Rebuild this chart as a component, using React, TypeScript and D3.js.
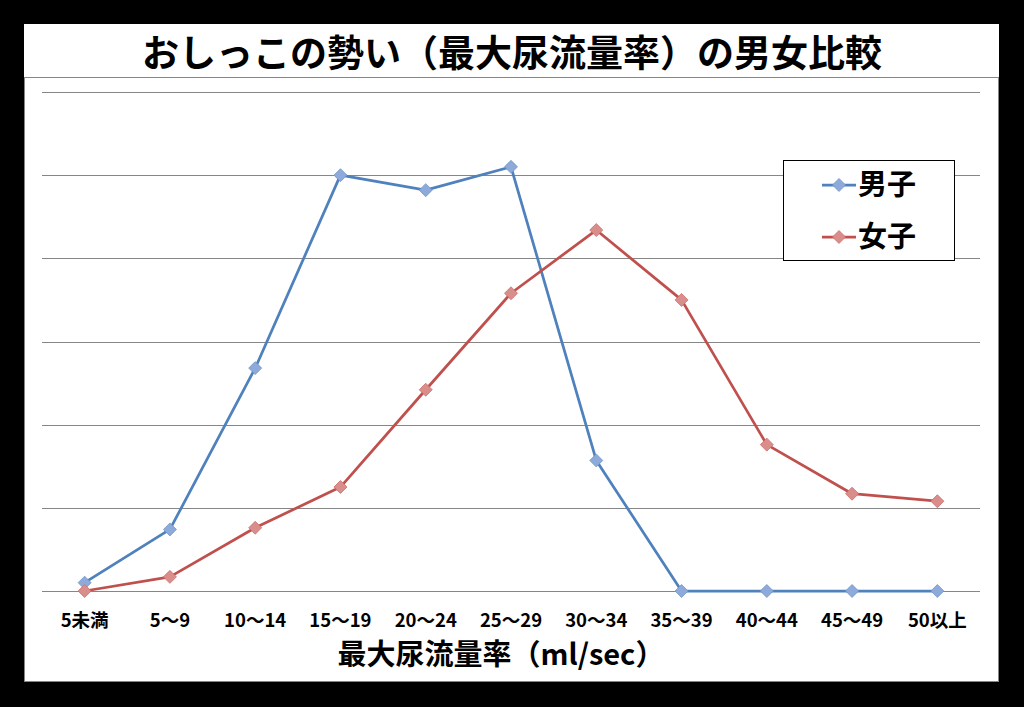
import React from "react";
import * as d3 from "d3";

const categories = ["5未満", "5～9", "10～14", "15～19", "20～24", "25～29", "30～34", "35～39", "40～44", "45～49", "50以上"];
const maleValues = [0.5, 3.7, 13.4, 25.0, 24.1, 25.5, 7.85, 0, 0, 0, 0];
const femaleValues = [0, 0.85, 3.8, 6.25, 12.1, 17.9, 21.7, 17.5, 8.8, 5.85, 5.4];
const yTicks = [0, 5, 10, 15, 20, 25, 30];
const seriesNames = ["男子", "女子"];
const title = "おしっこの勢い（最大尿流量率）の男女比較";
const xTitle = "最大尿流量率（ml/sec）";

const W = 1024;
const H = 707;
const FONT = "'Noto Sans CJK JP', 'Noto Sans', sans-serif";

const plot = { left: 42, right: 980, top: 92, bottom: 591 };

export default function App() {
  const x = d3.scaleBand<string>().domain(categories).range([plot.left, plot.right]);
  const y = d3.scaleLinear().domain([0, 30]).range([plot.bottom, plot.top]);
  const cx = (c: string) => (x(c) as number) + x.bandwidth() / 2;
  const line = d3
    .line<number>()
    .x((_, i) => cx(categories[i]))
    .y((d) => y(d));

  const series = [
    { name: seriesNames[0], values: maleValues, stroke: "#4F81BD", fill: "#8EAADB", mstroke: "#6F95C8" },
    { name: seriesNames[1], values: femaleValues, stroke: "#C0504D", fill: "#DA8E8C", mstroke: "#CC6E6B" },
  ];

  const diamond = (px: number, py: number, r: number) =>
    `M${px},${py - r}L${px + r},${py}L${px},${py + r}L${px - r},${py}Z`;

  return (
    <svg width={W} height={H} style={{ position: "absolute", left: 0, top: 0, display: "block" }}>
      <rect x={0} y={0} width={W} height={H} fill="#000" />
      <rect x={24} y={24} width={975} height={53} fill="#fff" />
      <rect x={24.5} y={77.5} width={974} height={604} fill="#fff" stroke="#868686" strokeWidth={1} />
      <text
        x={512}
        y={67}
        textAnchor="middle"
        fontFamily={FONT}
        fontWeight="bold"
        fontSize={37}
        fill="#000"
      >
        {title}
      </text>
      {yTicks.map((t) => (
        <line
          key={t}
          x1={plot.left}
          x2={plot.right}
          y1={Math.round(y(t)) + 0.5}
          y2={Math.round(y(t)) + 0.5}
          stroke="#868686"
          strokeWidth={1}
        />
      ))}
      {categories.map((c) => (
        <text
          key={c}
          x={cx(c)}
          y={627}
          textAnchor="middle"
          fontFamily={FONT}
          fontWeight="bold"
          fontSize={18.5}
          fill="#000"
        >
          {c}
        </text>
      ))}
      <text x={501} y={665} textAnchor="middle" fontFamily={FONT} fontWeight="bold" fontSize={29} fill="#000">
        {xTitle}
      </text>
      {series.map((s) => (
        <g key={s.name}>
          <path d={line(s.values) || ""} fill="none" stroke={s.stroke} strokeWidth={2.75} strokeLinejoin="round" />
          {s.values.map((v, i) => (
            <path key={i} d={diamond(cx(categories[i]), y(v), 6.5)} fill={s.fill} stroke={s.mstroke} strokeWidth={0.8} />
          ))}
        </g>
      ))}
      <rect x={783.5} y={160.5} width={171} height={100} fill="#fff" stroke="#000" strokeWidth={1} />
      {series.map((s, i) => {
        const ly = 185 + i * 52;
        return (
          <g key={s.name}>
            <line x1={822} x2={856} y1={ly} y2={ly} stroke={s.stroke} strokeWidth={2.75} />
            <path d={diamond(839, ly, 6.5)} fill={s.fill} stroke={s.mstroke} strokeWidth={0.8} />
            <text x={858} y={ly + 10} fontFamily={FONT} fontWeight="bold" fontSize={29} fill="#000">
              {s.name}
            </text>
          </g>
        );
      })}
    </svg>
  );
}
